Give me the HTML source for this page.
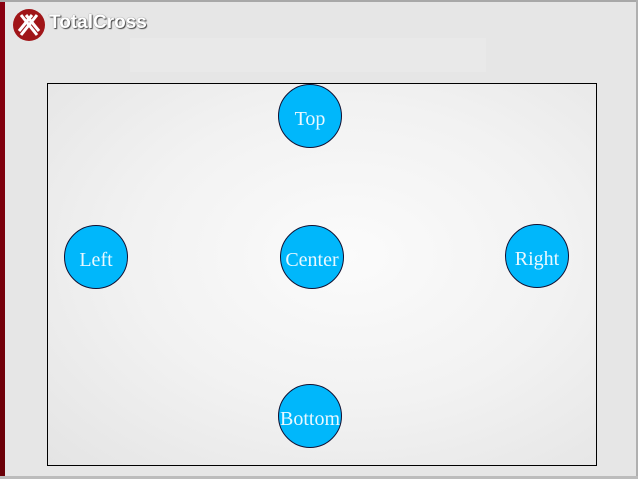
<!DOCTYPE html>
<html><head><style>
html,body{margin:0;padding:0}
body{width:638px;height:479px;position:relative;overflow:hidden;background:#e6e6e6;font-family:"Liberation Serif",serif}
.bar{position:absolute;left:0;top:0;width:5px;height:479px;background:linear-gradient(#8a0010,#6a0008)}
.topl{position:absolute;left:0;top:0;width:638px;height:2px;background:#a8a8a8}
.rl{position:absolute;right:0;top:0;width:2px;height:479px;background:#b0b0b0}
.bl{position:absolute;left:0;bottom:0;width:638px;height:3px;background:#bcbcbc}
.strip{position:absolute;left:130px;top:38px;width:356px;height:34px;background:#e9e9e9}
.box{position:absolute;left:47px;top:83px;width:548px;height:381px;border:1px solid #000;background:radial-gradient(ellipse at 55% 45%,#fbfbfb 0%,#f2f2f2 50%,#e4e4e4 100%)}
.c{position:absolute;width:62px;height:62px;border:1px solid #113;border-radius:50%;background:#00b7fb;color:#e8f8ff;font-size:20px;display:flex;align-items:center;justify-content:center;white-space:nowrap;box-sizing:content-box;padding-top:0}
.c span{position:relative;top:3px}
.logo{position:absolute;left:13px;top:9px;width:32px;height:32px;border-radius:50%;background:#a01518}
.lt{position:absolute;left:49px;top:12px;font-family:"Liberation Sans",sans-serif;font-weight:bold;font-size:19px;color:#fff;text-shadow:1px 1px 1px #444,0 0 1px #666}
</style></head><body>
<div class="strip"></div>
<div class="box"></div>
<div class="bar"></div><div class="topl"></div><div class="rl"></div><div class="bl"></div>
<div class="logo"><svg width="32" height="32" viewBox="0 0 32 32"><g stroke="#fff" stroke-width="3"><line x1="8" y1="6" x2="24" y2="26"/><line x1="24" y1="6" x2="8" y2="26"/><line x1="13" y1="6" x2="26" y2="22"/><line x1="19" y1="6" x2="6" y2="22"/></g></svg></div>
<div class="lt">TotalCross</div>
<div class="c" style="left:278px;top:84px"><span>Top</span></div>
<div class="c" style="left:64px;top:225px"><span>Left</span></div>
<div class="c" style="left:280px;top:225px"><span>Center</span></div>
<div class="c" style="left:505px;top:224px"><span>Right</span></div>
<div class="c" style="left:278px;top:384px"><span>Bottom</span></div>
</body></html>
